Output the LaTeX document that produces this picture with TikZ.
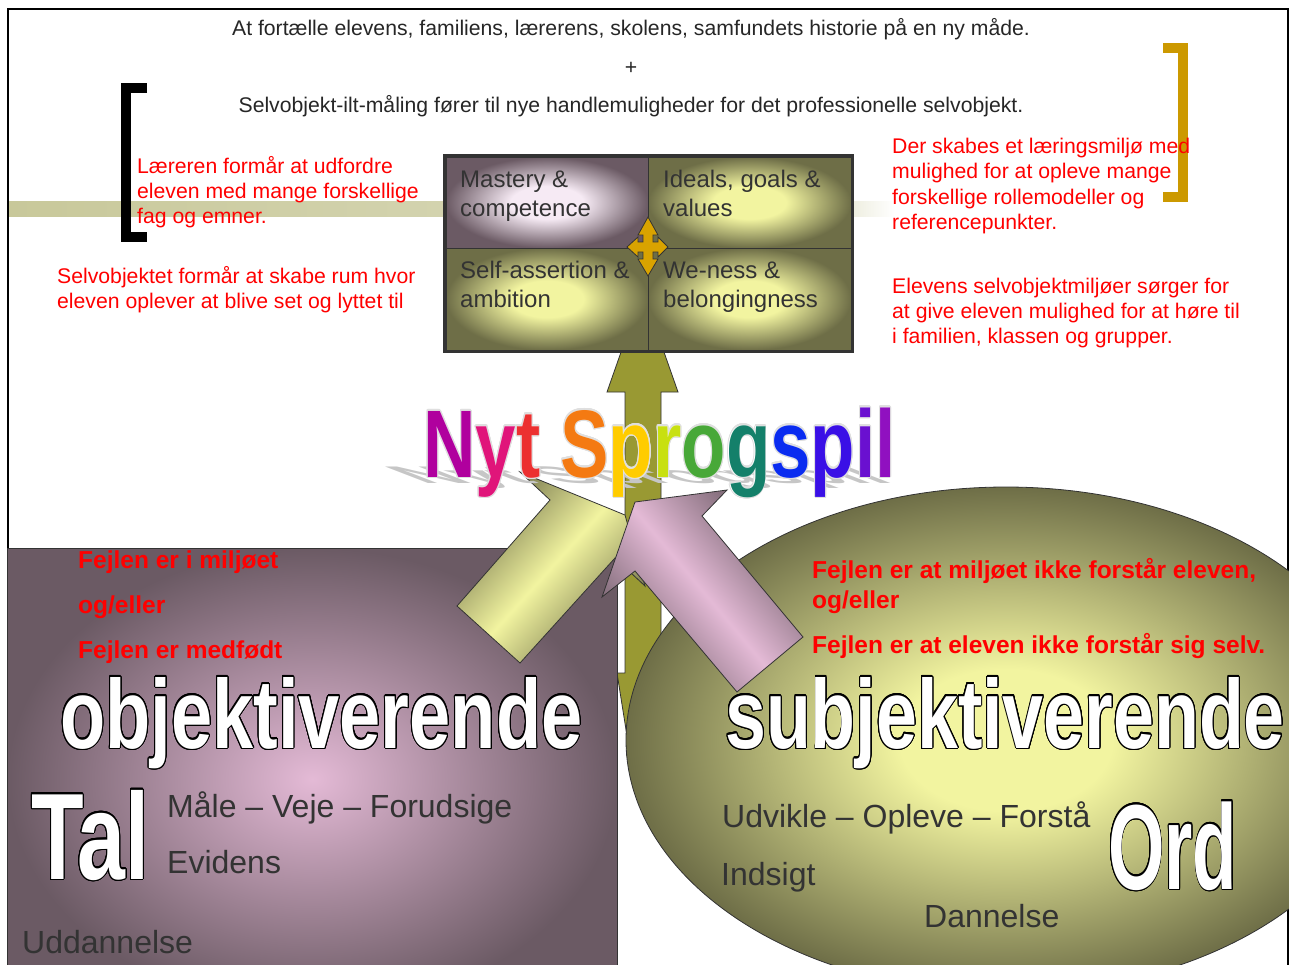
\documentclass[tikz,border=0pt]{standalone}
\usepackage{fontspec}
\setmainfont{Liberation Sans}
\usepackage{graphicx}
\usepackage{contour}
\contourlength{1.3pt}
\contournumber{24}

\definecolor{textgray}{HTML}{333333}
\definecolor{edgegray}{HTML}{333333}
\definecolor{olivedark}{HTML}{6E6E47}
\definecolor{olivelight}{HTML}{F2F4A0}
\definecolor{mauvedark}{HTML}{6B5A64}
\definecolor{mauvelight}{HTML}{E4BAD6}
\definecolor{celllight}{HTML}{F6EAF4}
\definecolor{arrowolive}{HTML}{999933}
\definecolor{bracketgold}{HTML}{CC9900}
\definecolor{crossgold}{HTML}{D9A300}
\definecolor{bandkhaki}{HTML}{C8C89A}
\definecolor{nytN}{HTML}{B0009E}
\definecolor{nytY}{HTML}{E0157A}
\definecolor{nytT}{HTML}{EC3030}
\definecolor{nytS}{HTML}{F47A12}
\definecolor{nytP}{HTML}{FFCC00}
\definecolor{nytR}{HTML}{C8E010}
\definecolor{nytO}{HTML}{48A838}
\definecolor{nytG}{HTML}{14806A}
\definecolor{nytSs}{HTML}{0A2CF0}
\definecolor{nytPp}{HTML}{3A10E6}
\definecolor{nytI}{HTML}{6A10D0}
\definecolor{nytL}{HTML}{9010C0}

\pgfdeclareradialshading{olivebevel}{\pgfpoint{0bp}{0bp}}{color(0bp)=(olivelight); color(9bp)=(olivelight); color(25bp)=(olivedark); color(50bp)=(olivedark)}
\pgfdeclareradialshading{mauvebevel}{\pgfpoint{0bp}{0bp}}{color(0bp)=(celllight); color(9bp)=(celllight); color(25bp)=(mauvedark); color(50bp)=(mauvedark)}
\pgfdeclareradialshading{ovalglow}{\pgfpoint{0bp}{0bp}}{color(0bp)=(olivelight); color(7bp)=(olivelight); color(25bp)=(olivedark); color(50bp)=(olivedark)}

\newcommand{\sprogspil}{\textcolor{nytN}{N}\textcolor{nytY}{y}\textcolor{nytT}{t}
  \textcolor{nytS}{S}\textcolor{nytP}{p}\textcolor{nytR}{r}\textcolor{nytO}{o}%
  \textcolor{nytG}{g}\textcolor{nytSs}{s}\textcolor{nytPp}{p}\textcolor{nytI}{i}\textcolor{nytL}{l}}

\tikzset{
  toptext/.style={font=\fontsize{21.2}{25}\selectfont, text=black!85, inner sep=0pt, anchor=base},
  redtext/.style={font=\fontsize{21.2}{25}\selectfont, text=red, inner sep=0pt, anchor=base west},
  celltext/.style={font=\fontsize{24}{29}\selectfont, text=textgray, inner sep=0pt, anchor=base west},
  greytext/.style={font=\fontsize{32}{38}\selectfont, text=textgray, inner sep=0pt, anchor=base west},
  redbold/.style={font=\bfseries\fontsize{24.5}{29}\selectfont, text=red, inner sep=0pt, anchor=base west},
  wordart/.style={font=\bfseries\fontsize{98}{110}\selectfont, text=white, inner sep=0pt, anchor=base west},
  nyt/.style={font=\bfseries\fontsize{96}{100}\selectfont, inner sep=0pt, anchor=base west},
  blockarrow/.style={draw=edgegray, line width=0.8pt},
  olivecell/.style={shading=olivebevel, draw=edgegray, line width=1pt},
  mauvecell/.style={shading=mauvebevel, draw=edgegray, line width=1pt}
}

\begin{document}
\begin{tikzpicture}[x=1pt,y=-1pt]
  \useasboundingbox (0,0) rectangle (1290,964);
  \clip (0,0) rectangle (1290,964);

  % band behind the box
  \shade[left color=bandkhaki, right color=bandkhaki!80!white] (7,201) rectangle (446,216);
  \shade[left color=bandkhaki!30!white, right color=white] (853,201) rectangle (895,216);

  % frame and brackets
  \draw[line width=2pt] (7.5,975) -- (7.5,8.5) -- (1287.5,8.5) -- (1287.5,975);
  \draw[line width=10pt] (147,88) -- (125.5,88) -- (125.5,237) -- (147,237);
  \draw[bracketgold, line width=10pt] (1163,47.5) -- (1183,47.5) -- (1183,197) -- (1163,197);

  % upright olive arrow
  \filldraw[arrowolive, blockarrow] (642.5,291) -- (678,392) -- (661,392) -- (661,780)
    -- (634,780) -- (617,673) -- (625,673) -- (625,392) -- (607,392) -- cycle;

  % the four cells
  \shadedraw[mauvecell] (446,157) rectangle (648,248);
  \shadedraw[olivecell] (648,157) rectangle (851,248);
  \shadedraw[olivecell] (446,248) rectangle (648,350);
  \shadedraw[olivecell] (648,248) rectangle (851,350);
  \draw[edgegray, line width=3.5pt] (444.5,155.5) rectangle (852.5,351.5);

  \node[celltext] (mastery) at (460,187) {Mastery \&};
  \node[celltext] (competence) at (460,216) {competence};
  \node[celltext] (ideals) at (663,187) {Ideals, goals \&};
  \node[celltext] (values) at (663,216) {values};
  \node[celltext] (selfassert) at (460,278) {Self-assertion \&};
  \node[celltext] (ambition) at (460,307) {ambition};
  \node[celltext] (weness) at (663,278) {We-ness \&};
  \node[celltext] (belonging) at (663,307) {belongingness};

  % gold cross in the middle
  \begin{scope}[shift={(648,247)}]
    \filldraw[crossgold, blockarrow] (-5,-5) -- (-5,-12) -- (-10,-12) -- (0,-30) -- (10,-12)
      -- (5,-12) -- (5,-5) -- (10,-5) -- (10,-10) -- (20,0) -- (10,10) -- (10,5) -- (5,5)
      -- (5,12) -- (10,12) -- (0,29) -- (-10,12) -- (-5,12) -- (-5,5) -- (-10,5) -- (-10,10)
      -- (-21,0) -- (-10,-10) -- (-10,-5) -- cycle;
  \end{scope}

  % lower fields
  \shadedraw[inner color=mauvelight, outer color=mauvedark, blockarrow] (7.5,548) rectangle (617,1010);
  \begin{scope}
    \clip (0,0) rectangle (1288.5,964);
    \shadedraw[shading=ovalglow, blockarrow]
      (1006,740) ellipse [x radius=380pt, y radius=253pt];
  \end{scope}

  % the two slanted block arrows
  \shadedraw[top color=olivedark, bottom color=olivedark, middle color=olivelight,
    shading angle=48, blockarrow] (457,606) -- (520,663) -- (615,558) -- (645,586)
    -- (625,515) -- (520,472) -- (550,500) -- cycle;
  \shadedraw[top color=mauvedark, bottom color=mauvedark, middle color=mauvelight,
    shading angle=-50, blockarrow] (737,692) -- (803,637) -- (702,516) -- (727,490)
    -- (635,502) -- (602,597) -- (635,571) -- cycle;

  % Nyt Sprogspil
  \begin{scope}[shift={(423,483)}]
    \node[nyt, text=gray!45, cm={1,0,-0.65,0.25,(0,0)}] (nytshadow) at (0,0)
      {\scalebox{0.757}[1]{Nyt Sprogspil}};
  \end{scope}
  \node[nyt, text=white] (nytrim) at (423,477) {\scalebox{0.757}[1]{\contour{gray!25}{Nyt Sprogspil}}};
  \node[nyt] (nyt) at (423,477) {\scalebox{0.757}[1]{\sprogspil}};

  % big outlined words
  \node[wordart] (objektiv) at (60,748) {\scalebox{0.755}[1]{\contour{black}{objektiverende}}};
  \node[wordart] (subjektiv) at (725,748) {\scalebox{0.75}[1]{\contour{black}{subjektiverende}}};
  \node[wordart, font=\bfseries\fontsize{123}{130}\selectfont] (tal) at (31,879)
    {\scalebox{0.70}[1]{\contour{black}{Tal}}};
  \node[wordart, font=\bfseries\fontsize{121}{130}\selectfont] (ord) at (1108,889)
    {\scalebox{0.60}[1]{\contour{black}{Ord}}};

  % grey words
  \node[greytext] (maale) at (167,817) {Måle – Veje – Forudsige};
  \node[greytext] (evidens) at (167,873) {Evidens};
  \node[greytext] (uddannelse) at (22,953) {Uddannelse};
  \node[greytext] (udvikle) at (722,827) {Udvikle – Opleve – Forstå};
  \node[greytext] (indsigt) at (721,885) {Indsigt};
  \node[greytext] (dannelse) at (924,927) {Dannelse};

  % red statements in the fields
  \node[redbold] (miljoe) at (78,568) {Fejlen er i miljøet};
  \node[redbold] (ogeller) at (78,613) {og/eller};
  \node[redbold] (medfoedt) at (78,658) {Fejlen er medfødt};
  \node[redbold] (forstaar) at (812,578) {Fejlen er at miljøet ikke forstår eleven,};
  \node[redbold] (ogeller2) at (812,608) {og/eller};
  \node[redbold] (sigselv) at (812,653) {Fejlen er at eleven ikke forstår sig selv.};

  % top lines
  \node[toptext] (historie) at (631,35) {At fortælle elevens, familiens, lærerens, skolens, samfundets historie på en ny måde.};
  \node[toptext] (plus) at (631,74) {+};
  \node[toptext] (maaling) at (631,112) {Selvobjekt-ilt-måling fører til nye handlemuligheder for det professionelle selvobjekt.};

  % red side notes
  \foreach \txt [count=\i from 0] in {Læreren formår at udfordre, eleven med mange forskellige, fag og emner.}
    \node[redtext] (udfordre\i) at (137,173+25*\i) {\txt};
  \foreach \txt [count=\i from 0] in {Selvobjektet formår at skabe rum hvor, eleven oplever at blive set og lyttet til}
    \node[redtext] (rum\i) at (57,283+25*\i) {\txt};
  \foreach \txt [count=\i from 0] in {Der skabes et læringsmiljø med, mulighed for at opleve mange, forskellige rollemodeller og, referencepunkter.}
    \node[redtext] (rollemodel\i) at (892,153+25.5*\i) {\txt};
  \foreach \txt [count=\i from 0] in {Elevens selvobjektmiljøer sørger for, at give eleven mulighed for at høre til, {i familien, klassen og grupper.}}
    \node[redtext] (hoere\i) at (892,293+25*\i) {\txt};
\end{tikzpicture}
\end{document}
